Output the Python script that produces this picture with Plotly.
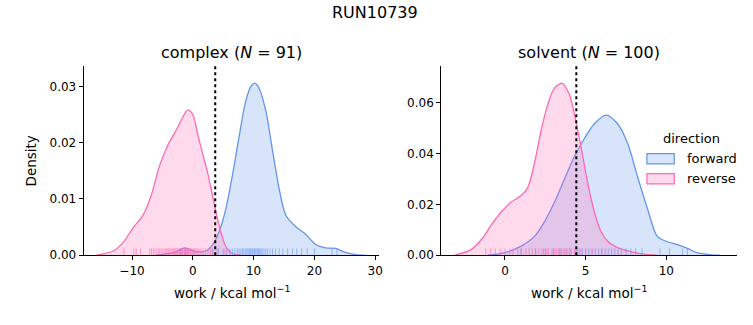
import plotly.graph_objects as go

# ---------------- data ----------------
# KDE curves: x positions (kcal/mol) and density values
complex_fwd_x = [-6.0, -3.0, -1.4, 0.5, 2.16, 3.25, 4.34, 5.44, 6.5, 7.6, 8.7, 9.54, 10.2, 10.9,
                 12.0, 13.1, 14.2, 15.3, 16.9, 18.6, 20.2, 21.8, 23.5, 25.1, 26.8, 28.4]
complex_fwd_y = [0.0, 0.0005, 0.0013, 0.00064, 0.00075, 0.0019, 0.0042, 0.0083, 0.0141, 0.021, 0.0274,
                 0.0300, 0.0306, 0.0297, 0.0257, 0.0187, 0.0118, 0.0071, 0.0051, 0.0037, 0.0019,
                 0.0013, 0.0012, 0.0005, 0.0001, 0.0]
complex_rev_x = [-15.9, -13.1, -11.5, -9.87, -8.2, -6.85, -5.5, -4.1, -2.75, -1.67, -0.85, -0.03,
                 0.79, 1.6, 2.43, 3.25, 3.8, 4.6, 5.4, 6.5, 8.0]
complex_rev_y = [0.0, 0.00075, 0.0022, 0.0048, 0.0071, 0.0106, 0.0158, 0.0196, 0.0222, 0.0245,
                 0.0258, 0.0251, 0.0216, 0.0181, 0.0147, 0.0106, 0.0077, 0.0042, 0.0016, 0.0003, 0.0]
solvent_fwd_x = [-1.05, 0.0, 1.0, 1.83, 2.45, 3.07, 3.68, 4.3, 4.92, 5.54, 6.26, 6.98, 7.6, 8.2,
                 8.83, 9.44, 10.06, 10.68, 11.3, 11.9, 12.7, 13.3]
solvent_fwd_y = [0.0, 0.001, 0.0036, 0.0074, 0.0132, 0.0209, 0.0299, 0.0388, 0.0459, 0.0517,
                 0.0551, 0.0517, 0.044, 0.0312, 0.0183, 0.0074, 0.0053, 0.0042, 0.0027, 0.001,
                 0.0002, 0.0]
solvent_rev_x = [-3.1, -2.08, -1.46, -0.85, -0.23, 0.39, 1.0, 1.42, 1.83, 2.24, 2.65, 3.07, 3.54,
                 3.99, 4.3, 4.71, 5.12, 5.54, 5.95, 6.36, 6.98, 7.8, 8.6, 9.4]
solvent_rev_y = [0.0, 0.0023, 0.0062, 0.0119, 0.017, 0.0209, 0.0235, 0.0267, 0.0363, 0.0491,
                 0.0593, 0.0658, 0.0676, 0.0632, 0.0555, 0.0427, 0.0286, 0.017, 0.0093, 0.0055,
                 0.003, 0.0014, 0.0004, 0.0]

# rug samples (individual work values)
complex_rev_rug = [-11.3, -9.7, -9.3, -8.6, -7.1, -6.8, -6.5, -6.2, -5.9, -5.6, -5.4, -5.1, -4.9,
                   -4.6, -4.4, -4.2, -4.0, -3.8, -3.6, -3.4, -3.2, -3.0, -2.9, -2.7, -2.5, -2.3,
                   -2.2, -2.0, -1.9, -1.7, -1.6, -1.4, -1.3, -1.1, -1.0, -0.9, -0.7, -0.6, -0.4,
                   -0.3, -0.1, 0.1, 0.3, 0.5, 0.7, 0.9, 1.2, 1.5, 1.8, 2.1, 2.5, 2.9, 3.3, 4.0, 5.3]
complex_fwd_rug = [-2.0, -1.2, 3.2, 4.2, 5.0, 5.6, 6.1, 6.5, 6.9, 7.3, 7.6, 7.9, 8.2, 8.4, 8.7,
                   8.9, 9.1, 9.3, 9.5, 9.7, 9.9, 10.1, 10.2, 10.4, 10.6, 10.8, 11.0, 11.2, 11.4,
                   11.7, 12.0, 12.3, 12.7, 13.1, 13.6, 14.2, 14.8, 15.6, 16.4, 17.1, 17.9, 18.8,
                   20.0, 22.9, 23.7]
solvent_rev_rug = [-1.2, -0.9, -0.6, -0.3, 0.0, 0.3, 0.5, 0.8, 1.0, 1.3, 1.5, 1.7, 1.9, 2.1, 2.3,
                   2.4, 2.6, 2.7, 2.9, 3.0, 3.1, 3.2, 3.3, 3.4, 3.5, 3.6, 3.7, 3.8, 3.9, 4.0, 4.1,
                   4.3, 4.5, 4.7, 5.0, 5.4, 6.0]
solvent_fwd_rug = [1.0, 1.9, 2.5, 3.0, 3.4, 3.8, 4.1, 4.4, 4.6, 4.8, 5.0, 5.2, 5.4, 5.6, 5.8, 6.0,
                   6.2, 6.4, 6.6, 6.8, 7.0, 7.2, 7.5, 7.8, 8.1, 8.5, 9.6, 10.2, 11.0, 11.3]

# vertical reference lines
complex_vline = 3.69
solvent_vline = 4.42

suptitle = "RUN10739"
complex_title = "complex (<i>N</i> = 91)"
solvent_title = "solvent (<i>N</i> = 100)"
xlabel = "work / kcal mol<sup>−1</sup>"
ylabel = "Density"
legend_title = "direction"
legend_labels = ["forward", "reverse"]

# ---------------- style ----------------
W, H = 753, 317
BLUE = "#6495ED"
PINK = "#FF69B4"
BLUE_FILL = "rgba(100,149,237,0.25)"
PINK_FILL = "rgba(255,105,180,0.25)"
BLUE_RUG = "rgba(100,149,237,0.6)"
PINK_RUG = "rgba(255,105,180,0.6)"
FONT = "DejaVu Sans"

ax_left = (84, 381)
ax_right = (443, 740)
ax_top, ax_bot = 67.5, 261

def px(x):
    return x / W

def py(y):
    return 1 - y / H

ranges = {
    "left": dict(x=[-17.95, 30.7], y=[0, 0.03365]),
    "right": dict(x=[-3.95, 14.38], y=[0, 0.0744]),
}

fig = go.Figure()

def add_panel(xa, ya, fx, fy, rx, ry, frug, rrug, ymax):
    fig.add_trace(go.Scatter(x=fx, y=fy, mode="lines",
                             line=dict(color=BLUE, width=1.3, shape="spline", smoothing=0.8),
                             fill="tozeroy", fillcolor=BLUE_FILL, xaxis=xa, yaxis=ya,
                             showlegend=False, hoverinfo="skip"))
    fig.add_trace(go.Scatter(x=rx, y=ry, mode="lines",
                             line=dict(color=PINK, width=1.3, shape="spline", smoothing=0.8),
                             fill="tozeroy", fillcolor=PINK_FILL, xaxis=xa, yaxis=ya,
                             showlegend=False, hoverinfo="skip"))
    rug_y = ymax * 0.014
    fig.add_trace(go.Scatter(x=frug, y=[rug_y] * len(frug), mode="markers",
                             marker=dict(symbol="line-ns-open", size=6, color=BLUE_RUG,
                                         line=dict(color=BLUE_RUG, width=1)),
                             xaxis=xa, yaxis=ya, showlegend=False, hoverinfo="skip"))
    fig.add_trace(go.Scatter(x=rrug, y=[rug_y] * len(rrug), mode="markers",
                             marker=dict(symbol="line-ns-open", size=6, color=PINK_RUG,
                                         line=dict(color=PINK_RUG, width=1)),
                             xaxis=xa, yaxis=ya, showlegend=False, hoverinfo="skip"))

add_panel("x", "y", complex_fwd_x, complex_fwd_y, complex_rev_x, complex_rev_y,
          complex_fwd_rug, complex_rev_rug, ranges["left"]["y"][1])
add_panel("x2", "y2", solvent_fwd_x, solvent_fwd_y, solvent_rev_x, solvent_rev_y,
          solvent_fwd_rug, solvent_rev_rug, ranges["right"]["y"][1])

tickfont = dict(family=FONT, size=12, color="black")
axis_common = dict(showline=True, linecolor="black", linewidth=1, ticks="outside", ticklen=4,
                   tickwidth=1, tickcolor="black", showgrid=False, zeroline=False, tickfont=tickfont,
                   mirror=False)

fig.update_layout(
    width=W, height=H, margin=dict(l=0, r=0, t=0, b=0),
    paper_bgcolor="white", plot_bgcolor="white", showlegend=False,
    xaxis=dict(domain=[px(ax_left[0]), px(ax_left[1])], range=ranges["left"]["x"], anchor="y",
               tickvals=[-10, 0, 10, 20, 30], **axis_common),
    yaxis=dict(domain=[py(ax_bot), py(ax_top)], range=ranges["left"]["y"], anchor="x",
               dtick=0.01, tickformat=".2f", **axis_common),
    xaxis2=dict(domain=[px(ax_right[0]), px(ax_right[1])], range=ranges["right"]["x"], anchor="y2",
                tickvals=[0, 5, 10], **axis_common),
    yaxis2=dict(domain=[py(ax_bot), py(ax_top)], range=ranges["right"]["y"], anchor="x2",
                dtick=0.02, tickformat=".2f", **axis_common),
)

# dotted vertical lines
for xref, yref, xv in [("x", "y domain", complex_vline), ("x2", "y2 domain", solvent_vline)]:
    fig.add_shape(type="line", xref=xref, yref=yref, x0=xv, x1=xv, y0=0, y1=1,
                  line=dict(color="black", width=2, dash="dot"))

# titles and labels
ann = []
ann.append(dict(text=suptitle, x=px(376.5), y=py(13), font=dict(family=FONT, size=16, color="black")))
ann.append(dict(text=complex_title, x=px((ax_left[0] + ax_left[1]) / 2), y=py(54),
                font=dict(family=FONT, size=16, color="black")))
ann.append(dict(text=solvent_title, x=px((ax_right[0] + ax_right[1]) / 2), y=py(54),
                font=dict(family=FONT, size=16, color="black")))
ann.append(dict(text=xlabel, x=px((ax_left[0] + ax_left[1]) / 2), y=py(299),
                font=dict(family=FONT, size=13.5, color="black")))
ann.append(dict(text=xlabel, x=px((ax_right[0] + ax_right[1]) / 2), y=py(299),
                font=dict(family=FONT, size=13.5, color="black")))
ann.append(dict(text=ylabel, x=px(31), y=py((ax_top + ax_bot) / 2), textangle=-90,
                font=dict(family=FONT, size=13.5, color="black")))
ann.append(dict(text=legend_title, x=px(694), y=py(142), font=dict(family=FONT, size=13, color="black")))
ann.append(dict(text=legend_labels[0], x=px(687.5), y=py(162), xanchor="left",
                font=dict(family=FONT, size=13, color="black")))
ann.append(dict(text=legend_labels[1], x=px(687.5), y=py(182.5), xanchor="left",
                font=dict(family=FONT, size=13, color="black")))
for a in ann:
    a.setdefault("xanchor", "center")
    a.update(xref="paper", yref="paper", yanchor="middle", showarrow=False)
    fig.add_annotation(**a)

# legend patches
for (y0, y1), fill, line in [((157, 167.5), BLUE_FILL, BLUE), ((177.5, 188), PINK_FILL, PINK)]:
    fig.add_shape(type="rect", xref="paper", yref="paper", x0=px(649.5), x1=px(677),
                  y0=py(y1), y1=py(y0), fillcolor=fill, line=dict(color=line, width=1.2))

fig.write_html("out.html")
